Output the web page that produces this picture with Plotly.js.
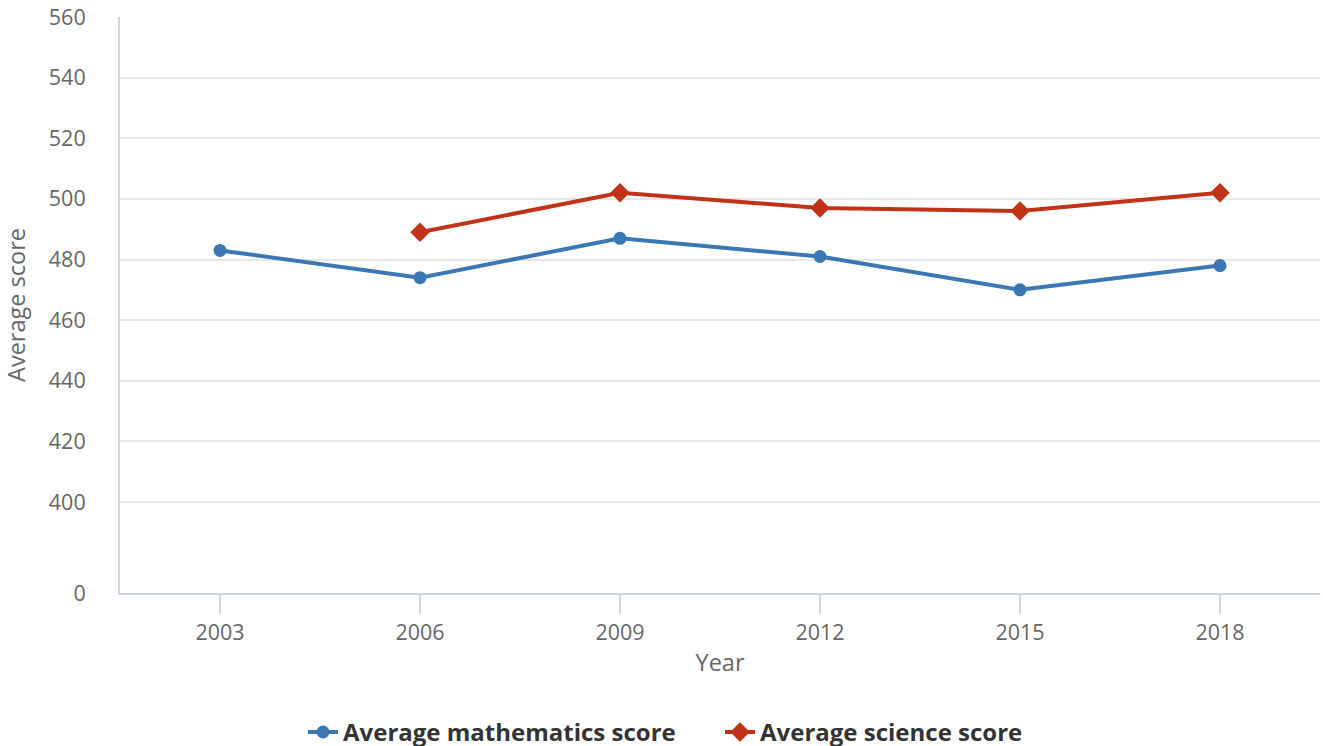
<!DOCTYPE html>
<html>
<head>
<meta charset="utf-8">
<script src="https://cdn.plot.ly/plotly-3.0.1.min.js"></script>
<style>html,body{margin:0;padding:0;background:#fff;}#chart{width:1323px;height:746px;}</style>
</head>
<body>
<div id="chart"></div>
<script>
const years = ["2003", "2006", "2009", "2012", "2015", "2018"];
const mathScores = [483, 474, 487, 481, 470, 478];
const scienceScores = [null, 489, 502, 497, 496, 502];
// broken axis: the "0" baseline is drawn at a compressed position below 400
const axisBreakValue = 370;
const yTickVals = [axisBreakValue, 400, 420, 440, 460, 480, 500, 520, 540, 560];
const yTickText = ["0", "400", "420", "440", "460", "480", "500", "520", "540", "560"];

const font = "'Open Sans', sans-serif";
const traces = [
  {
    x: years, y: mathScores, name: "Average mathematics score",
    type: "scatter", mode: "lines+markers",
    line: {color: "#3a77b3", width: 4},
    marker: {color: "#3a77b3", size: 13, symbol: "circle"},
    hoverinfo: "x+y"
  },
  {
    x: years, y: scienceScores, name: "Average science score",
    type: "scatter", mode: "lines+markers", connectgaps: false,
    line: {color: "#c13318", width: 4},
    marker: {color: "#c13318", size: 15, symbol: "diamond"},
    hoverinfo: "x+y"
  }
];
const layout = {
  width: 1323, height: 746,
  margin: {l: 120, r: 3, t: 17, b: 153, autoexpand: false},
  paper_bgcolor: "#fff", plot_bgcolor: "#fff",
  font: {family: font, color: "#666", size: 21.5},
  showlegend: true,
  legend: {
    orientation: "h", x: 0.5, xanchor: "center", y: -0.242, yanchor: "middle",
    font: {family: font, size: 24, color: "#333", weight: "bold"},
    itemwidth: 30, entrywidth: 372
  },
  xaxis: {
    type: "category", range: [-0.5, 5.5],
    showgrid: false, zeroline: false,
    showline: true, linecolor: "#ccd6eb", linewidth: 2,
    ticks: "outside", ticklen: 19, tickwidth: 2, tickcolor: "#ccd6eb",
    tickfont: {family: font, size: 21.5, color: "#666"},
    title: {text: "Year", font: {family: font, size: 23.5, color: "#666"}, standoff: 10},
    fixedrange: true
  },
  yaxis: {
    range: [axisBreakValue, 560],
    tickvals: yTickVals, ticktext: yTickText,
    showgrid: true, gridcolor: "#e6e6e6", gridwidth: 2,
    zeroline: false,
    showline: true, linecolor: "#ccd6eb", linewidth: 2,
    ticks: "", ticklabelstandoff: 28,
    tickfont: {family: font, size: 21.5, color: "#666"},
    title: {text: "Average score", font: {family: font, size: 23.5, color: "#666"}, standoff: 19},
    fixedrange: true
  }
};
Plotly.newPlot("chart", traces, layout, {displayModeBar: false, staticPlot: true});
</script>
</body>
</html>
